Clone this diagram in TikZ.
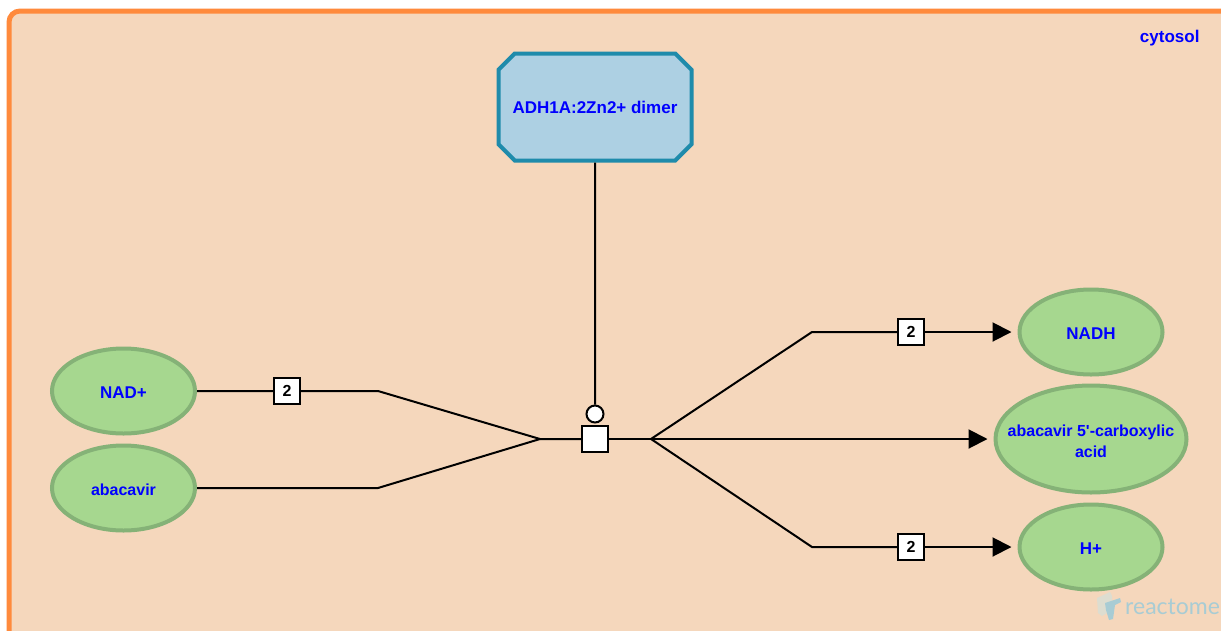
\documentclass[tikz,border=0pt]{standalone}
\usepackage{fontspec}
\setmainfont{Liberation Sans}
\newfontfamily\logofont{Lato}
\usetikzlibrary{arrows.meta,shapes.geometric,shapes.misc}
\definecolor{compfill}{HTML}{F5D7BC}
\definecolor{compline}{HTML}{FF8A3C}
\definecolor{molfill}{HTML}{A6D78F}
\definecolor{molline}{HTML}{85B277}
\definecolor{cplxfill}{HTML}{ADD0E3}
\definecolor{cplxline}{HTML}{1F8BAB}
\definecolor{logoblue}{HTML}{A8CCD4}
\definecolor{logogrey}{HTML}{DDDDD0}
\tikzset{
	x=1pt, y=-1pt,
	lbl/.style={font=\fontsize{17}{21}\selectfont\bfseries, text=blue, align=center},
	small/.style={font=\fontsize{16}{21}\selectfont\bfseries},
	mol/.style={ellipse, draw=molline, fill=molfill, line width=4pt, inner sep=0pt, minimum width=143pt, minimum height=85pt, lbl, text height=15pt, text depth=0pt},
	stoich/.style={draw=black, fill=white, line width=2pt, minimum size=26pt, inner sep=0pt, font=\fontsize{16}{18}\selectfont\bfseries},
	conn/.style={draw=black, line width=2pt},
	prod/.style={conn, -{Triangle[length=19pt,width=19pt]}, shorten >=6pt},
}
\begin{document}
\begin{tikzpicture}
	\useasboundingbox (0,0) rectangle (1221,630);
	\clip (0,0) rectangle (1221,630);
	\fill [white] (0,0) rectangle (1221,630);
	\draw [compline, fill=compfill, line width=5pt, rounded corners=11pt] (9,11) rectangle (1260,670);
	\node [lbl, anchor=east] (cytosol) at (1203,38) {cytosol};
	% species
	\node [mol] (nadp) at (123.5,391) {NAD+};
	\node [mol, small] (abac) at (123.5,488) {abacavir};
	\node [mol] (nadh) at (1091,332) {NADH};
	\node [mol, small, minimum width=191pt, minimum height=107pt, text height=17pt] (acid) at (1091,439) {\makebox[0pt]{\begin{tabular}{@{}c@{}}abacavir 5\textquotesingle-carboxylic\\acid\end{tabular}}};
	\node [mol] (hplus) at (1091,547) {H+};
	\node [lbl, chamfered rectangle, chamfered rectangle angle=45, chamfered rectangle xsep=10pt, chamfered rectangle ysep=10pt, draw=cplxline, fill=cplxfill, line width=4pt, minimum width=193pt, minimum height=107pt, inner sep=0pt] (adh) at (595,107) {ADH1A:2Zn2+ dimer};
	% reaction
	\node [draw=black, fill=white, line width=2pt, minimum size=26pt, inner sep=0pt] (rxn) at (595,439) {};
	\node [circle, draw=black, fill=white, line width=2pt, minimum size=17pt, inner sep=0pt] (cat) at (595,414) {};
	\coordinate (join) at (540,439);
	\coordinate (fork) at (651,439);
	\coordinate (bendA) at (378,391);
	\coordinate (bendB) at (378,488);
	\coordinate (bendC) at (812,332);
	\coordinate (bendD) at (812,547);
	\node [stoich] (numA) at (287,391) {2};
	\node [stoich] (numC) at (911,332) {2};
	\node [stoich] (numD) at (911,547) {2};
	\draw [conn] (adh) -- (cat);
	\draw [conn] (nadp) -- (numA) -- (bendA) -- (join) -- (rxn);
	\draw [conn] (abac) -- (bendB) -- (join);
	\draw [conn] (rxn) -- (fork);
	\draw [conn] (fork) -- (bendC) -- (numC);
	\draw [prod] (numC) -- (nadh);
	\draw [prod] (fork) -- (acid);
	\draw [conn] (fork) -- (bendD) -- (numD);
	\draw [prod] (numD) -- (hplus);
	% watermark
	\fill [logogrey] (1097,598) -- (1110,592) -- (1112,596) -- (1112,610) -- (1102,616) -- (1098,613) -- cycle;
	\fill [logoblue] (1105,603) -- (1120,598) -- (1121,602) -- (1115,605) -- (1113,619) -- (1109,620) -- (1106,610) -- cycle;
	\node [anchor=west, inner sep=0pt, text=logoblue, font=\logofont\fontsize{23}{26}\selectfont] (logo) at (1125,607) {reactome};
\end{tikzpicture}
\end{document}
